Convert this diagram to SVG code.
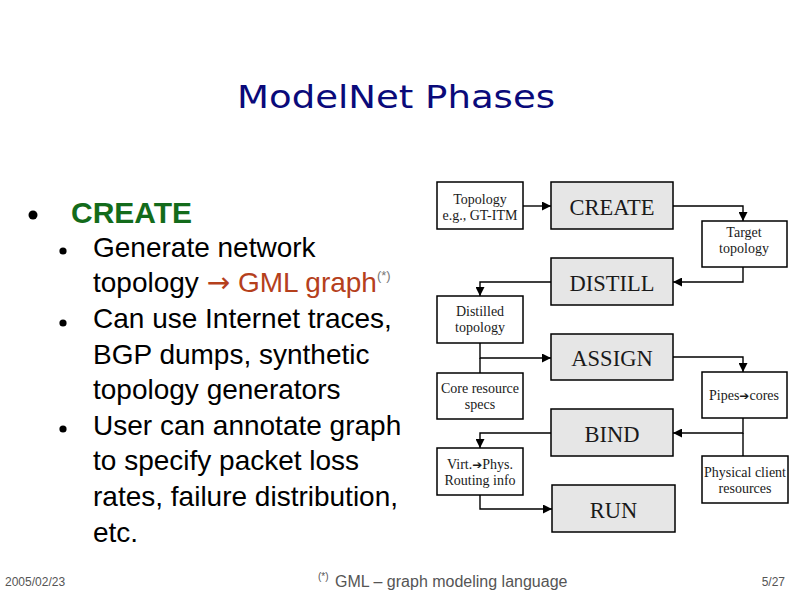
<svg xmlns="http://www.w3.org/2000/svg" width="794" height="595" viewBox="0 0 794 595">
<defs>
<style>
.sans{font-family:"Liberation Sans",Arial,sans-serif;}
.body{font-family:"Liberation Sans",Arial,sans-serif;font-size:28px;fill:#000;}
.phase rect{fill:#e6e6e6;stroke:#000;stroke-width:1.5;}
.info rect{fill:#fff;stroke:#000;stroke-width:1.5;}
.phase text{font-family:"Liberation Serif","Times New Roman",serif;font-size:22.5px;fill:#1a1a1a;text-anchor:middle;}
.info text{font-family:"Liberation Serif","Times New Roman",serif;font-size:14px;fill:#1a1a1a;text-anchor:middle;}
.conn path{fill:none;stroke:#000;stroke-width:1.4;}
.foot{font-family:"Liberation Sans",Arial,sans-serif;fill:#555;}
</style>
<marker id="arr" markerUnits="userSpaceOnUse" markerWidth="9" markerHeight="9" viewBox="0 0 10 10" refX="10" refY="5" orient="auto">
<path d="M0,0 L10,5 L0,10 z" fill="#000"/>
</marker>
</defs>
<rect width="794" height="595" fill="#fff"/>

<text id="title" x="237" y="108.3" font-family="'DejaVu Sans',sans-serif" font-size="32" fill="#0a0a7a" textLength="318" lengthAdjust="spacingAndGlyphs">ModelNet Phases</text>

<g id="bullets">
<circle cx="33" cy="215" r="4.5" fill="#000"/>
<text x="71" y="223" class="sans" font-size="30" font-weight="bold" fill="#136b1b">CREATE</text>
<circle cx="63" cy="251" r="3.6" fill="#000"/>
<circle cx="63" cy="323" r="3.6" fill="#000"/>
<circle cx="63" cy="429" r="3.6" fill="#000"/>
<text class="body" x="93" y="256.7">Generate network</text>
<text class="body" x="93" y="292.3">topology <tspan fill="#b5401c"><tspan font-family="'DejaVu Sans',sans-serif">→</tspan> GML graph</tspan><tspan font-size="13" fill="#777" dy="-12">(*)</tspan></text>
<text class="body" x="93" y="327.9">Can use Internet traces,</text>
<text class="body" x="93" y="363.5">BGP dumps, synthetic</text>
<text class="body" x="93" y="399.1">topology generators</text>
<text class="body" x="93" y="434.7">User can annotate graph</text>
<text class="body" x="93" y="470.3">to specify packet loss</text>
<text class="body" x="93" y="505.9">rates, failure distribution,</text>
<text class="body" x="93" y="541.5">etc.</text>
</g>

<g class="conn" id="connectors">
<path d="M523,206 H551" marker-end="url(#arr)"/>
<path d="M673,206 H743 V221" marker-end="url(#arr)"/>
<path d="M743,267 V282 H673" marker-end="url(#arr)"/>
<path d="M551,282 H480 V296" marker-end="url(#arr)"/>
<path d="M480,343 V358 H551" marker-end="url(#arr)"/>
<path d="M480,373 V358"/>
<path d="M673,357 H743 V372" marker-end="url(#arr)"/>
<path d="M743,418 V433 H673" marker-end="url(#arr)"/>
<path d="M743,456 V433"/>
<path d="M551,433 H480 V448" marker-end="url(#arr)"/>
<path d="M480,495 V509 H552" marker-end="url(#arr)"/>
</g>

<g id="topology" class="info"><rect x="437" y="182" width="86" height="47"/><text x="480" y="204">Topology</text><text x="480" y="219.5">e.g., GT-ITM</text></g>
<g id="create" class="phase"><rect x="551" y="182" width="122" height="47"/><text x="612" y="215">CREATE</text></g>
<g id="target" class="info"><rect x="702" y="221" width="85" height="46"/><text x="744" y="237">Target</text><text x="744" y="253">topology</text></g>
<g id="distill" class="phase"><rect x="551" y="258" width="122" height="47"/><text x="612" y="291">DISTILL</text></g>
<g id="distilled" class="info"><rect x="437" y="296" width="86" height="47"/><text x="480" y="315.5">Distilled</text><text x="480" y="332">topology</text></g>
<g id="assign" class="phase"><rect x="551" y="334" width="122" height="46"/><text x="612" y="366">ASSIGN</text></g>
<g id="core" class="info"><rect x="437" y="373" width="86" height="46"/><text x="480" y="392.5">Core resource</text><text x="480" y="409">specs</text></g>
<g id="pipes" class="info"><rect x="702" y="372" width="85" height="46"/><text x="744" y="399.5">Pipes<tspan font-family="'DejaVu Sans',sans-serif" font-size="12">➔</tspan>cores</text></g>
<g id="bind" class="phase"><rect x="551" y="409" width="122" height="47"/><text x="612" y="442">BIND</text></g>
<g id="virt" class="info"><rect x="437" y="448" width="86" height="47"/><text x="480" y="468.5">Virt.<tspan font-family="'DejaVu Sans',sans-serif" font-size="12">➔</tspan>Phys.</text><text x="480" y="485">Routing info</text></g>
<g id="physical" class="info"><rect x="702" y="456" width="86" height="47"/><text x="745" y="476.5">Physical client</text><text x="745" y="492.5">resources</text></g>
<g id="run" class="phase"><rect x="552" y="485" width="123" height="47"/><text x="613.5" y="518">RUN</text></g>

<g id="footer">
<text class="foot" x="5" y="586" font-size="12">2005/02/23</text>
<text class="foot" x="318" y="580" font-size="10" fill="#666">(*)</text>
<text class="foot" x="335" y="587" font-size="16" fill="#666">GML – graph modeling language</text>
<text class="foot" x="785" y="586" font-size="12" text-anchor="end">5/27</text>
</g>
</svg>
